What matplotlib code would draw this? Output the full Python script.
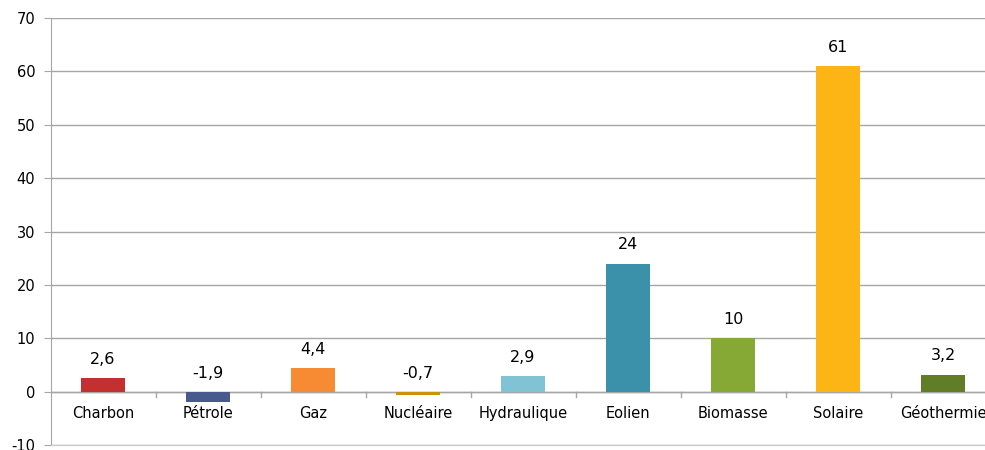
import matplotlib
matplotlib.use("Agg")
import matplotlib.pyplot as plt
import numpy as np

categories = ["Charbon", "Pétrole", "Gaz", "Nucléaire", "Hydraulique", "Eolien", "Biomasse", "Solaire", "Géothermie"]
values = [2.6, -1.9, 4.4, -0.7, 2.9, 24, 10, 61, 3.2]
value_labels = ["2,6", "-1,9", "4,4", "-0,7", "2,9", "24", "10", "61", "3,2"]
colors = ["#C3302F", "#485A8C", "#F68B33", "#C8920C", "#7FC3D5", "#3A91A9", "#86A935", "#FDB515", "#627D27"]
y_ticks = [-10, 0, 10, 20, 30, 40, 50, 60, 70]

plt.rcParams['font.family'] = ['DejaVu Sans']
fig = plt.figure(figsize=(9.85, 4.5), dpi=100)
W, H = 985, 450
left_px, right_px = 50.5, 995.5
top_px, bot_px = 18, 445
ax = fig.add_axes([left_px / W, 1 - bot_px / H, (right_px - left_px) / W, (bot_px - top_px) / H])

x = np.arange(len(categories))
ax.bar(x, values, width=0.41, color=colors, zorder=3)
ax.set_xlim(-0.5, len(categories) - 0.5)
ax.set_ylim(-10, 70)
ax.set_yticks(y_ticks)
ax.set_yticklabels([str(t) for t in y_ticks], fontsize=10.5)
ax.grid(axis='y', color='#A6A6A6', linewidth=1, zorder=0)
ax.tick_params(axis='y', length=5, color='#A6A6A6', pad=6)
ax.set_xticks([])
for s in ['top', 'right']:
    ax.spines[s].set_visible(False)
ax.spines['bottom'].set_color('#C8C8C8')
ax.spines['left'].set_color('#A6A6A6')
ax.axhline(0, color='#A6A6A6', linewidth=1, zorder=2)
# category separator ticks at zero line
for b in np.arange(0.5, len(categories) - 0.5, 1):
    ax.plot([b, b], [0, -1.0], color='#A6A6A6', linewidth=1, zorder=2, clip_on=False)

for xi, v, lab in zip(x, values, value_labels):
    base = max(v, 0)
    ax.annotate(lab, xy=(xi, base), xytext=(0, 8), textcoords='offset points',
                ha='center', va='bottom', fontsize=11.5)
    ax.annotate(categories[xi], xy=(xi, 0), xytext=(0, -15.5), textcoords='offset points',
                ha='center', va='center', fontsize=10.5)

fig.savefig("out.png", dpi=100)
